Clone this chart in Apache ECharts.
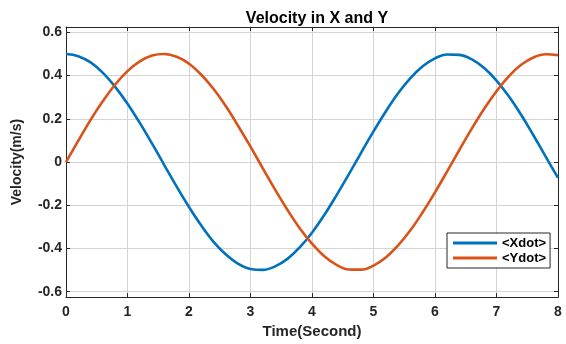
<!DOCTYPE html>
<html><head><meta charset="utf-8">
<script src="https://cdn.jsdelivr.net/npm/echarts@6/dist/echarts.min.js"></script>
<style>html,body{margin:0;padding:0;background:#fff}#c{width:566px;height:344px}</style>
</head><body><div id="c"></div>
<script>
const timeValues = [0,0.2,0.4,0.6,0.8,1.0,1.2,1.4,1.6,1.8,2.0,2.2,2.4,2.6,2.8,3.0,3.2,3.4,3.6,3.8,4.0,4.2,4.4,4.6,4.8,5.0,5.2,5.4,5.6,5.8,6.0,6.2,6.4,6.6,6.8,7.0,7.2,7.4,7.6,7.8,8.0];
const xdotValues = [0.5,0.490,0.461,0.413,0.348,0.270,0.181,0.085,-0.015,-0.114,-0.208,-0.294,-0.369,-0.428,-0.471,-0.495,-0.499,-0.483,-0.448,-0.395,-0.327,-0.245,-0.153,-0.056,0.044,0.142,0.234,0.318,0.388,0.443,0.480,0.498,0.496,0.475,0.435,0.377,0.304,0.219,0.124,0.025,-0.073];
const ydotValues = [0,0.099,0.195,0.282,0.359,0.421,0.466,0.493,0.500,0.487,0.455,0.404,0.338,0.258,0.167,0.071,-0.029,-0.128,-0.221,-0.306,-0.378,-0.436,-0.476,-0.497,-0.498,-0.479,-0.442,-0.386,-0.316,-0.232,-0.140,-0.042,0.058,0.156,0.247,0.328,0.397,0.450,0.484,0.499,0.495];
const yTicks = [-0.6,-0.4,-0.2,0,0.2,0.4,0.6];
const xTicks = [0,1,2,3,4,5,6,7,8];
const seriesNames = ['<Xdot>','<Ydot>'];
const titleText = 'Velocity in X and Y';
const xName = 'Time(Second)';
const yName = 'Velocity(m/s)';

const font = 'Liberation Sans, Arial, Helvetica, sans-serif';
const axisCol = '#262626';
const gridCol = '#d4d4d4';
function fmtY(v){ if (Math.abs(v) < 1e-9) return '0'; return String(Math.round(v*10)/10); }

const chart = echarts.init(document.getElementById('c'), null, {renderer:'canvas'});
const tick = {show:true,inside:true,length:4,lineStyle:{color:axisCol}};
const line = {show:true,onZero:false,lineStyle:{color:axisCol,width:1}};
chart.setOption({
  animation:false,
  backgroundColor:'#fff',
  title:{text:titleText,left:312,top:6,textAlign:'center',
    textStyle:{fontFamily:font,fontSize:16,fontWeight:'bold',color:'#000'}},
  grid:{left:66,right:8,top:27,bottom:43,show:false},
  legend:{
    orient:'vertical',left:447,top:233,
    backgroundColor:'#fff',borderColor:axisCol,borderWidth:1,borderRadius:0,
    padding:[3,4,3,6],itemGap:1,itemWidth:44,itemHeight:3,icon:'rect',
    textStyle:{fontFamily:font,fontSize:13,fontWeight:'bold',color:'#000',lineHeight:14},
    data:seriesNames
  },
  xAxis:[
    {type:'value',min:0,max:8,interval:1,position:'bottom',
      name:xName,nameLocation:'middle',nameGap:23,
      nameTextStyle:{fontFamily:font,fontSize:15,fontWeight:'bold',color:'#262626'},
      axisLabel:{fontFamily:font,fontSize:14,fontWeight:'bold',color:'#262626',margin:8},
      axisLine:line,axisTick:tick,
      splitLine:{show:true,lineStyle:{color:gridCol,width:1}}},
    {type:'value',min:0,max:8,interval:1,position:'top',
      axisLine:line,axisTick:tick,
      axisLabel:{show:false},splitLine:{show:false}}
  ],
  yAxis:[
    {type:'value',min:-0.625,max:0.625,position:'left',
      name:yName,nameLocation:'middle',nameGap:42,
      nameTextStyle:{fontFamily:font,fontSize:14,fontWeight:'bold',color:'#262626'},
      axisLabel:{customValues:yTicks,formatter:fmtY,fontFamily:font,fontSize:14,fontWeight:'bold',color:'#262626',margin:4},
      axisTick:Object.assign({customValues:yTicks},tick),
      axisLine:line,
      splitLine:{show:true,lineStyle:{color:gridCol,width:1}}},
    {type:'value',min:-0.625,max:0.625,position:'right',
      axisLabel:{show:false},splitLine:{show:false},
      axisTick:Object.assign({customValues:yTicks},tick),
      axisLine:line}
  ],
  series:[
    {name:seriesNames[0],type:'line',symbol:'none',smooth:0.4,
      lineStyle:{color:'#0072BD',width:2.6},itemStyle:{color:'#0072BD'},
      data:timeValues.map((t,i)=>[t,xdotValues[i]])},
    {name:seriesNames[1],type:'line',symbol:'none',smooth:0.4,
      lineStyle:{color:'#D95319',width:2.6},itemStyle:{color:'#D95319'},
      data:timeValues.map((t,i)=>[t,ydotValues[i]])}
  ]
});
</script></body></html>
